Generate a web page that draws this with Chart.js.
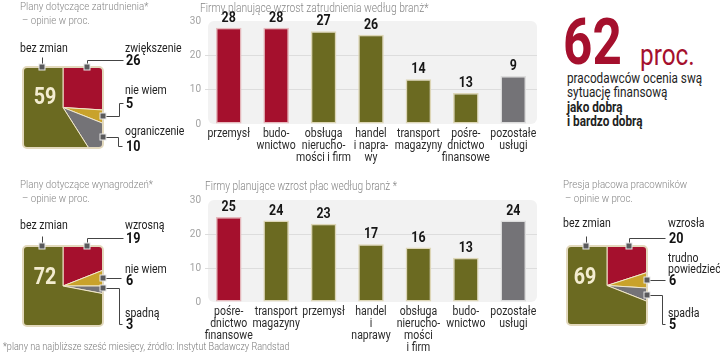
<!DOCTYPE html>
<html><head><meta charset="utf-8">
<script src="https://cdn.jsdelivr.net/npm/chart.js@4.4.0/dist/chart.umd.min.js"></script>
<style>
html,body{margin:0;padding:0;background:#fff;}
body{width:720px;height:353px;position:relative;overflow:hidden;font-family:Roboto,"DejaVu Sans",sans-serif;}
canvas{position:absolute;}
.t{position:absolute;white-space:nowrap;line-height:1;transform:translateY(-50%) scaleX(0.84);transform-origin:0 50%;}
.g{color:#868686;font-size:11.6px;font-weight:300;}
.l{color:#222;font-size:12.5px;}
.n{color:#111;font-size:15px;font-weight:bold;}
.c{position:absolute;line-height:1;color:#f3ecd0;font-size:24px;font-weight:bold;transform:translate(-50%,-50%) scaleX(0.82);}
</style></head>
<body>
<canvas id="bar1" width="370" height="170" style="left:180px;top:0px"></canvas>
<canvas id="bar2" width="370" height="173" style="left:180px;top:180px"></canvas>
<canvas id="pie1" width="180" height="125" style="left:0px;top:40px"></canvas>
<canvas id="pie2" width="180" height="125" style="left:0px;top:215px"></canvas>
<canvas id="pie3" width="175" height="125" style="left:545px;top:215px"></canvas>
<div id="txt"></div>
<script>
// ---------- DATA ----------
const yTicks = [0, 10, 20, 30];

const bar1Title = 'Firmy planujące wzrost zatrudnienia według branż*';
const bar1Cats = [['przemysł'], ['budo-', 'wnictwo'], ['obsługa', 'nierucho-', 'mości i firm'], ['handel', 'i napra-', 'wy'], ['transport', 'magazyny'], ['pośre-', 'dnictwo', 'finansowe'], ['pozostałe', 'usługi']];
const bar1Values = [28, 28, 27, 26, 13, 9, 14];
const bar1Labels = ['28', '28', '27', '26', '14', '13', '9'];

const bar2Title = 'Firmy planujące wzrost płac według branż *';
const bar2Cats = [['pośre-', 'dnictwo', 'finansowe'], ['transport', 'magazyny'], ['przemysł'], ['handel', 'i', 'naprawy'], ['obsługa', 'nierucho-', 'mości', 'i firm'], ['budo-', 'wnictwo'], ['pozostałe', 'usługi']];
const bar2Values = [25, 24, 23, 17, 16, 13, 24];
const bar2Labels = ['25', '24', '23', '17', '16', '13', '24'];

const pie1Title = ['Plany dotyczące zatrudnienia*', '– opinie w proc.'];
const pie1Labels = ['zwiększenie', 'nie wiem', 'ograniczenie', 'bez zmian'];
const pie1Values = [26, 5, 10, 59];

const pie2Title = ['Plany dotyczące wynagrodzeń*', '– opinie w proc.'];
const pie2Labels = ['wzrosną', 'nie wiem', 'spadną', 'bez zmian'];
const pie2Values = [19, 6, 3, 72];

const pie3Title = ['Presja płacowa pracowników', '– opinie w proc.'];
const pie3Labels = ['wzrosła', ['trudno', 'powiedzieć'], 'spadła', 'bez zmian'];
const pie3Values = [20, 6, 5, 69];

const bigValue = '62';
const bigUnit = 'proc.';
const bigText = ['pracodawców ocenia swą', 'sytuację finansową'];
const bigTextBold = ['jako dobrą', 'i bardzo dobrą'];

const footnote = '*plany na najbliższe sześć miesięcy, źródło: Instytut Badawczy Randstad';

// ---------- STYLE ----------
const F = 'Roboto,"DejaVu Sans",sans-serif';
const SQX = 0.84;
const RED = '#a5102d', OLIVE = '#6b6a21', GOLD = '#c9a22b', GRAY = '#747377';
const RED_B = '#e6b9bd', OL_B = '#ddd6b6';

const txt = document.getElementById('txt');
function addText(str, cls, x, y, extra) {
  const d = document.createElement('div');
  d.className = cls; d.textContent = str;
  d.style.left = x + 'px'; d.style.top = y + 'px';
  if (extra) d.style.cssText += extra;
  txt.appendChild(d);
  return d;
}

// ---------- BAR CHARTS ----------
const bgPlugin = {
  id: 'bg',
  beforeDraw(chart) {
    const {ctx, chartArea: a} = chart;
    ctx.save();
    ctx.fillStyle = '#f2f2f2';
    ctx.beginPath();
    ctx.roundRect(a.left + 3, a.top, a.width - 3, a.height, 6);
    ctx.fill();
    ctx.restore();
  }
};
function labelPlugin(labels) {
  return {
    id: 'vl',
    afterDatasetsDraw(chart) {
      const {ctx, chartArea: a} = chart;
      ctx.save();
      ctx.font = 'bold 15.5px ' + F;
      ctx.fillStyle = '#161616';
      ctx.textAlign = 'center';
      ctx.textBaseline = 'bottom';
      chart.getDatasetMeta(0).data.forEach((el, i) => {
        ctx.save(); ctx.translate(el.x, el.y - 2); ctx.scale(0.8, 1);
        ctx.fillText(labels[i], 0, 0); ctx.restore();
      });
      const xs = chart.scales.x;
      ctx.font = '12.5px ' + F;
      ctx.fillStyle = '#2a2a2a';
      ctx.textBaseline = 'middle';
      chart.data.labels.forEach((lab, i) => {
        const x = xs.getPixelForTick(i);
        lab.forEach((s, k) => {
          ctx.save(); ctx.translate(x, a.bottom + 9.5 + k * 12); ctx.scale(SQX, 1);
          ctx.fillText(s, 0, 0); ctx.restore();
        });
      });
      ctx.restore();
    }
  };
}
function barChart(id, cats, vals, labels, colors, borders, padTop, xH) {
  new Chart(document.getElementById(id), {
    type: 'bar',
    data: {labels: cats, datasets: [{data: vals, backgroundColor: colors, borderColor: borders, borderWidth: 1.5, borderSkipped: false, categoryPercentage: 1, barPercentage: 0.54}]},
    options: {
      responsive: false, animation: false, events: [],
      layout: {padding: {left: 0, right: 13, top: padTop, bottom: 0}},
      plugins: {legend: {display: false}, tooltip: {enabled: false}},
      scales: {
        x: {grid: {display: false}, border: {display: false},
            ticks: {display: false},
            afterFit(s) { s.height = xH; }},
        y: {min: yTicks[0], max: yTicks[yTicks.length - 1],
            afterBuildTicks(s) { s.ticks = yTicks.map(v => ({value: v})); },
            ticks: {color: '#a3a3a3', font: {family: F, size: 10}, padding: 4},
            grid: {drawTicks: false, color: c => (c.tick && c.tick.value > yTicks[0] && c.tick.value < yTicks[yTicks.length - 1]) ? '#dddddd' : 'rgba(0,0,0,0)'},
            border: {display: false},
            afterFit(s) { s.width = 25; }}
      }
    },
    plugins: [bgPlugin, labelPlugin(labels)]
  });
}
barChart('bar1', bar1Cats, bar1Values, bar1Labels,
  [RED, RED, OLIVE, OLIVE, OLIVE, OLIVE, GRAY], [RED_B, RED_B, OL_B, OL_B, OL_B, OL_B, '#dcdcdc'], 21, 46);
barChart('bar2', bar2Cats, bar2Values, bar2Labels,
  [RED, OLIVE, OLIVE, OLIVE, OLIVE, OLIVE, GRAY], [RED_B, OL_B, OL_B, OL_B, OL_B, OL_B, '#dcdcdc'], 20, 51);
addText(bar1Title, 't g', 200, 8, 'font-size:12.2px;');
addText(bar2Title, 't g', 205, 186, 'font-size:12px;');

// ---------- SQUARE PIES ----------
function piePlugin(ox, oy, marks) {
  return {
    id: 'sq',
    beforeDatasetsDraw(chart) {
      const {ctx, chartArea: a} = chart;
      ctx.save();
      ctx.beginPath();
      ctx.roundRect(a.left, a.top, a.width, a.height, 4);
      ctx.clip();
    },
    afterDatasetsDraw(chart) {
      const {ctx, chartArea: a} = chart;
      ctx.restore();
      ctx.save();
      ctx.strokeStyle = '#e3d9bd'; ctx.lineWidth = 2;
      ctx.beginPath(); ctx.roundRect(a.left, a.top, a.width, a.height, 4); ctx.stroke();
      ctx.strokeStyle = '#444'; ctx.lineWidth = 1;
      marks.forEach(m => {
        ctx.beginPath();
        m.forEach((p, i) => {
          const x = Math.round(p[0] - ox) + 0.5, y = Math.round(p[1] - oy) + 0.5;
          i ? ctx.lineTo(x, y) : ctx.moveTo(x, y);
        });
        ctx.stroke();
      });
      marks.forEach(m => {
        const x = Math.round(m[0][0] - ox), y = Math.round(m[0][1] - oy);
        ctx.fillStyle = '#e8e8e8'; ctx.fillRect(x - 3.5, y - 3.5, 7, 7);
        ctx.fillStyle = '#5a5a5c'; ctx.fillRect(x - 2.5, y - 2.5, 5, 5);
      });
      ctx.restore();
    }
  };
}
function pieChart(id, ox, oy, pad, vals, marks) {
  new Chart(document.getElementById(id), {
    type: 'pie',
    data: {labels: vals.map(String), datasets: [{data: vals, backgroundColor: [RED, GOLD, GRAY, OLIVE], borderColor: '#f1e8cc', borderWidth: 1}]},
    options: {
      responsive: false, animation: false, events: [], radius: '150%',
      layout: {padding: pad},
      plugins: {legend: {display: false}, tooltip: {enabled: false}}
    },
    plugins: [piePlugin(ox, oy, marks)]
  });
}
pieChart('pie1', 0, 40, {left: 23, right: 77, top: 27, bottom: 17}, pie1Values, [
  [[42, 67], [42, 57]],
  [[87, 67], [87, 60], [123, 60]],
  [[103, 116], [119, 116], [119, 103], [123, 103]],
  [[103, 137], [118, 137], [118, 146], [122, 146]]
]);
pieChart('pie2', 0, 215, {left: 23, right: 77, top: 31, bottom: 14}, pie2Values, [
  [[42, 246], [42, 236]],
  [[87, 246], [87, 238], [123, 238]],
  [[103, 278], [121, 278]],
  [[103, 288], [119, 288], [119, 324], [122, 324]]
]);
pieChart('pie3', 545, 215, {left: 22, right: 73, top: 31, bottom: 15}, pie3Values, [
  [[586, 246], [586, 236]],
  [[629, 246], [629, 238], [665, 238]],
  [[647, 280], [665, 280]],
  [[647, 295], [662, 295], [662, 324], [665, 324]]
]);

function pieTexts(title, labels, vals, tx, ty, bz, items, center) {
  addText(title[0], 't g', tx, ty);
  addText(title[1], 't g', tx + 2, ty + 14);
  addText(labels[3], 't l', bz[0], bz[1]);
  items.forEach((it, i) => {
    const lab = Array.isArray(labels[i]) ? labels[i] : [labels[i]];
    lab.forEach((s, k) => addText(s, 't l', it[0], it[1] + k * 11));
    addText(String(vals[i]), 't n', it[0] + 1, it[2]);
  });
  addText(String(vals[3]), 'c', center[0], center[1]);
}
pieTexts(pie1Title, pie1Labels, pie1Values, 20, 7, [20, 48], [[125, 48, 60], [125, 90, 103], [125, 131, 146]], [45, 96]);
pieTexts(pie2Title, pie2Labels, pie2Values, 20, 185, [20, 225], [[125, 225, 238], [125, 269, 280], [125, 313, 324]], [45, 276]);
pieTexts(pie3Title, pie3Labels, pie3Values, 563, 185, [563, 223], [[668, 223, 238], [668, 258, 280], [668, 313, 324]], [585, 276]);

// ---------- BIG NUMBER ----------
addText(bigValue, 't', 563, 43, 'color:' + RED + ';font-size:64px;font-weight:bold;transform:translateY(-50%) scaleX(0.8);');
addText(bigUnit, 't', 640, 55, 'color:' + RED + ';font-size:29px;');
bigText.forEach((s, i) => addText(s, 't', 567, 78 + i * 14, 'color:#222;font-size:14px;'));
bigTextBold.forEach((s, i) => addText(s, 't', 567, 107 + i * 14, 'color:#222;font-size:14px;font-weight:bold;'));

addText(footnote, 't', 3, 347, 'color:#7a7a7a;font-size:10.8px;font-weight:300;');
</script>
</body></html>
